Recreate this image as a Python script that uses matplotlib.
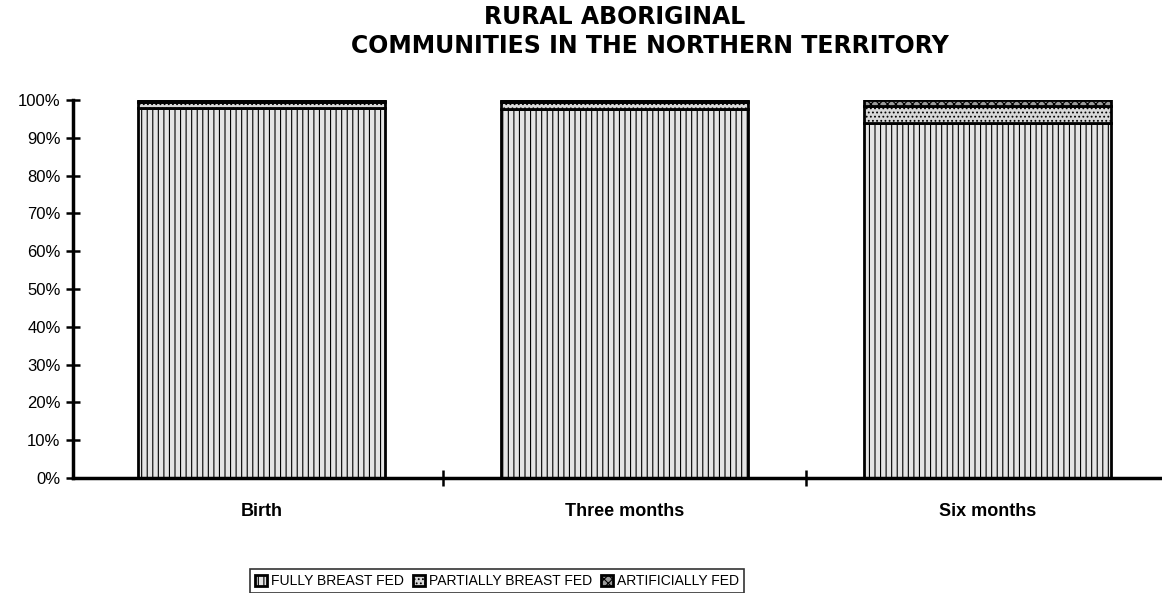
import numpy as np
import matplotlib.pyplot as plt
from matplotlib.ticker import FixedLocator

plt.rcParams['font.family'] = ['Liberation Sans', 'DejaVu Sans']
plt.rcParams['hatch.linewidth'] = 0.8

# Datos (porcentajes)
categorias = ["Birth", "Three months", "Six months"]
fully = [98.0, 97.5, 94.0]
partially = [1.5, 2.0, 4.5]
artificial = [0.5, 0.5, 1.5]
series = ["FULLY BREAST FED", "PARTIALLY BREAST FED", "ARTIFICIALLY FED"]
yticks = np.arange(0, 101, 10)

fig = plt.figure(figsize=(11.62, 5.93), dpi=100)
ax = fig.add_axes([73/1162, 1 - 478/593, 1089/1162, 378/593])

x = np.arange(len(categorias))
w = 0.68
b1 = ax.bar(x, fully, w, color="#e4e4e4", edgecolor="black", hatch="|||", linewidth=2)
b2 = ax.bar(x, partially, w, bottom=fully, color="#d8d8d8", edgecolor="black", hatch="....", linewidth=2)
bottom3 = np.array(fully) + np.array(partially)
b3 = ax.bar(x, artificial, w, bottom=bottom3, color="#9a9a9a", edgecolor="black", hatch="xxxx", linewidth=2)

ax.set_xlim(-0.52, 2.48)
ax.set_ylim(0, 100)
ax.set_yticks(yticks)
ax.set_yticklabels([f"{v}%" for v in yticks], fontsize=12)
ax.set_xticks(x)
ax.set_xticklabels(categorias, fontsize=13, fontweight="bold")
ax.tick_params(axis="x", which="major", length=0, pad=18)
ax.xaxis.set_minor_locator(FixedLocator([0.5, 1.5]))
ax.tick_params(axis="x", which="minor", direction="inout", length=12, width=1.8)
ax.tick_params(axis="y", direction="inout", length=10, width=1.8, pad=4)

for s in ["top", "right"]:
    ax.spines[s].set_visible(False)
ax.spines["left"].set_linewidth(2.5)
ax.spines["bottom"].set_linewidth(2.5)

# Titulo en dos lineas
fig.text(615/1162, 1 - 17/593, "RURAL ABORIGINAL", ha="center", va="center",
         fontsize=17, fontweight="bold", family="DejaVu Sans")
fig.text(650/1162, 1 - 46/593, "COMMUNITIES IN THE NORTHERN TERRITORY", ha="center", va="center",
         fontsize=17, fontweight="bold", family="DejaVu Sans")

leg = fig.legend([b1, b2, b3], series, loc="lower center", bbox_to_anchor=(497/1162, -0.012),
                 ncol=3, fontsize=10, frameon=True, fancybox=False, edgecolor="black",
                 handlelength=0.9, handleheight=0.9, handletextpad=0.3, columnspacing=0.6,
                 borderpad=0.35)
leg.get_frame().set_linewidth(1.2)

plt.savefig("out.png", dpi=100)
